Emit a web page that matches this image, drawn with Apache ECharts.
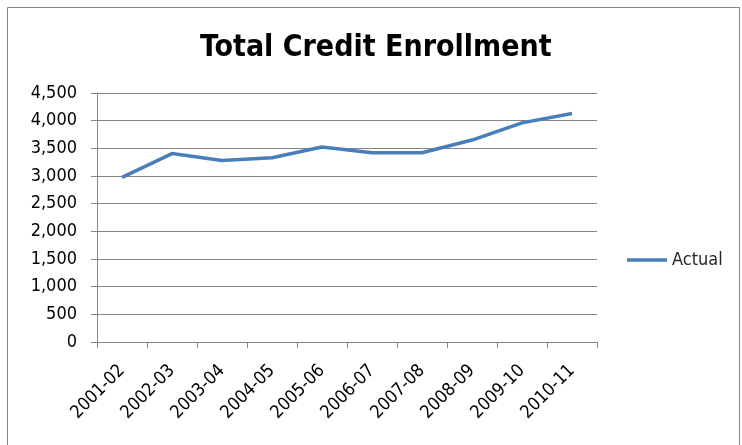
<!DOCTYPE html>
<html>
<head>
<meta charset="utf-8">
<script src="https://cdn.jsdelivr.net/npm/echarts@6/dist/echarts.min.js"></script>
<style>
  html, body { margin: 0; padding: 0; background: #ffffff; }
  #chart { width: 742px; height: 445px; }
</style>
</head>
<body>
<div id="chart"></div>
<script>
// Academic years on the category axis
const years = ['2001-02', '2002-03', '2003-04', '2004-05', '2005-06',
               '2006-07', '2007-08', '2008-09', '2009-10', '2010-11'];
// Total credit enrollment, actual values
const actual = [2975, 3405, 3280, 3330, 3525, 3420, 3420, 3650, 3960, 4130];
// Value axis range
const yMin = 0;
const yMax = 4500;
const yStep = 500;

const chart = echarts.init(document.getElementById('chart'), null, { renderer: 'canvas' });
const labelFont = "'DejaVu Sans Condensed', 'DejaVu Sans', sans-serif";

chart.setOption({
  backgroundColor: '#ffffff',
  animation: false,
  graphic: [{
    type: 'rect',
    shape: { x: 7.5, y: 7.5, width: 732, height: 460 },
    style: { fill: 'none', stroke: '#868686', lineWidth: 1 },
    silent: true
  }],
  title: {
    text: 'Total Credit Enrollment',
    left: 200,
    top: 33,
    padding: 0,
    textStyle: {
      fontFamily: labelFont,
      fontWeight: 'bold',
      fontSize: 30,
      color: '#000000'
    }
  },
  legend: {
    left: 622,
    top: 246,
    orient: 'vertical',
    itemWidth: 40,
    itemHeight: 3.5,
    icon: 'rect',
    textStyle: { fontFamily: labelFont, fontSize: 18, color: '#262626' },
    data: [{ name: 'Actual', icon: 'rect' }]
  },
  grid: { left: 97, right: 145, top: 93, bottom: 103, containLabel: false },
  xAxis: {
    type: 'category',
    data: years,
    boundaryGap: true,
    axisLine: { lineStyle: { color: '#868686', width: 1 } },
    axisTick: { show: true, alignWithLabel: false, length: 6, lineStyle: { color: '#868686' } },
    axisLabel: {
      rotate: 45,
      margin: 26,
      interval: 0,
      fontFamily: labelFont,
      fontSize: 18,
      color: '#000000'
    },
    splitLine: { show: false }
  },
  yAxis: {
    type: 'value',
    min: yMin,
    max: yMax,
    interval: yStep,
    axisLine: { show: true, lineStyle: { color: '#868686', width: 1 } },
    axisTick: { show: true, length: 6, lineStyle: { color: '#868686' } },
    axisLabel: {
      margin: 20,
      fontFamily: labelFont,
      fontSize: 18,
      color: '#000000',
      formatter: v => v.toLocaleString('en-US')
    },
    splitLine: { show: true, lineStyle: { color: '#868686', width: 1 } }
  },
  series: [{
    name: 'Actual',
    type: 'line',
    data: actual,
    showSymbol: false,
    symbol: 'none',
    color: '#4a7ebb',
    lineStyle: { color: '#4a7ebb', width: 3.5 }
  }]
});
</script>
</body>
</html>
